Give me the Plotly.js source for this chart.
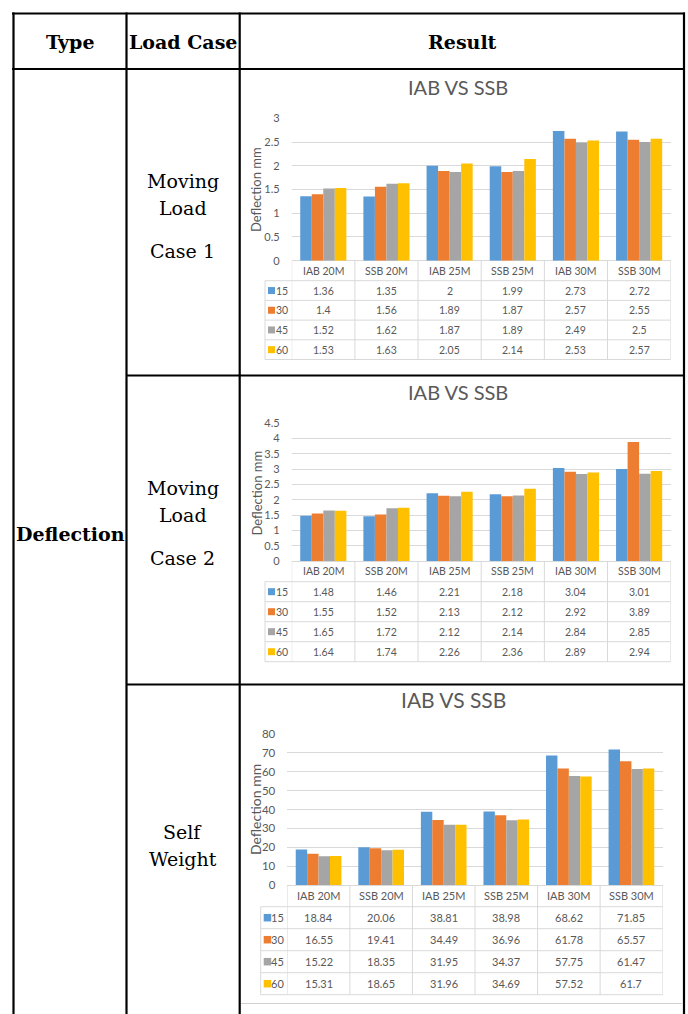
<!DOCTYPE html>
<html>
<head>
<meta charset="utf-8">
<script src="https://cdn.plot.ly/plotly-3.0.1.min.js"></script>
<style>
  html, body { margin: 0; padding: 0; background: #fff; }
  #chart { width: 688px; height: 1014px; }
</style>
</head>
<body>
<div id="chart"></div>
<script>
// ---- data ----
const categories = ['IAB 20M', 'SSB 20M', 'IAB 25M', 'SSB 25M', 'IAB 30M', 'SSB 30M'];
const seriesNames = ['15', '30', '45', '60'];
const seriesColors = ['#5B9BD5', '#ED7D31', '#A5A5A5', '#FFC000'];

// Moving Load Case 1 (deflection, mm)
const case1_15 = [1.36, 1.35, 2, 1.99, 2.73, 2.72];
const case1_30 = [1.4, 1.56, 1.89, 1.87, 2.57, 2.55];
const case1_45 = [1.52, 1.62, 1.87, 1.89, 2.49, 2.5];
const case1_60 = [1.53, 1.63, 2.05, 2.14, 2.53, 2.57];

// Moving Load Case 2 (deflection, mm)
const case2_15 = [1.48, 1.46, 2.21, 2.18, 3.04, 3.01];
const case2_30 = [1.55, 1.52, 2.13, 2.12, 2.92, 3.89];
const case2_45 = [1.65, 1.72, 2.12, 2.14, 2.84, 2.85];
const case2_60 = [1.64, 1.74, 2.26, 2.36, 2.89, 2.94];

// Self Weight (deflection, mm)
const self_15 = [18.84, 20.06, 38.81, 38.98, 68.62, 71.85];
const self_30 = [16.55, 19.41, 34.49, 36.96, 61.78, 65.57];
const self_45 = [15.22, 18.35, 31.95, 34.37, 57.75, 61.47];
const self_60 = [15.31, 18.65, 31.96, 34.69, 57.52, 61.7];

// y-axis ticks
const ticks_case1 = [0, 0.5, 1, 1.5, 2, 2.5, 3];
const ticks_case2 = [0, 0.5, 1, 1.5, 2, 2.5, 3, 3.5, 4, 4.5];
const ticks_self = [0, 10, 20, 30, 40, 50, 60, 70, 80];

const chartTitle = 'IAB VS SSB';
const yTitle = 'Deflection mm';

// ---- page geometry (pixels) ----
const W = 688, H = 1014;
const px = x => x / W;
const py = y => 1 - y / H;

const CHART_FONT = 'Lato, "Open Sans", sans-serif';
const SERIF = '"DejaVu Serif", "Liberation Serif", serif';
const GREY_TEXT = '#595959';
const GRID = '#d9d9d9';

const panels = [
  { suf: '',  series: [case1_15, case1_30, case1_45, case1_60], ticks: ticks_case1,
    left: 291.7, right: 670.7, top: 118.3, bottom: 260.7, titleX: 458, titleY: 87, titleSize: 20,
    yTitleX: 256, yTitleY: 190, yTitleSize: 13, legendLeft: 265, headerH: 20, rowH: 19.7, fontSize: 10.5, key: 7 },
  { suf: '2', series: [case2_15, case2_30, case2_45, case2_60], ticks: ticks_case2,
    left: 291.7, right: 670.7, top: 423.3, bottom: 561, titleX: 458, titleY: 392, titleSize: 20,
    yTitleX: 256.5, yTitleY: 493, yTitleSize: 13, legendLeft: 265, headerH: 20.7, rowH: 20, fontSize: 10.5, key: 7 },
  { suf: '3', series: [self_15, self_30, self_45, self_60], ticks: ticks_self,
    left: 287.3, right: 662.7, top: 734, bottom: 885, titleX: 454, titleY: 699, titleSize: 21,
    yTitleX: 255, yTitleY: 810, yTitleSize: 14, legendLeft: 260.7, headerH: 21.7, rowH: 22, fontSize: 11, key: 7.5 }
];

const traces = [];
const annotations = [];
const shapes = [];
const layout = {
  width: W, height: H,
  margin: { l: 0, r: 0, t: 0, b: 0 },
  paper_bgcolor: '#ffffff',
  plot_bgcolor: 'rgba(0,0,0,0)',
  showlegend: false,
  barmode: 'group',
  bargap: 0.27,
  bargroupgap: 0,
  font: { family: CHART_FONT, color: GREY_TEXT }
};

panels.forEach(p => {
  const xa = 'x' + p.suf, ya = 'y' + p.suf;
  const tickMax = p.ticks[p.ticks.length - 1];

  p.series.forEach((vals, s) => {
    traces.push({
      type: 'bar', name: seriesNames[s], x: categories, y: vals,
      xaxis: xa, yaxis: ya,
      marker: { color: seriesColors[s], line: { width: 0 } },
      hoverinfo: 'x+y+name'
    });
  });

  layout['xaxis' + p.suf] = {
    domain: [px(p.left), px(p.right)], anchor: ya,
    type: 'category', categoryarray: categories, range: [-0.5, categories.length - 0.5],
    showticklabels: false, showgrid: false, zeroline: false, showline: false, ticks: '',
    fixedrange: true
  };
  layout['yaxis' + p.suf] = {
    domain: [py(p.bottom), py(p.top)], anchor: xa,
    range: [0, tickMax], tickvals: p.ticks, ticktext: p.ticks.map(String),
    showgrid: true, gridcolor: GRID, gridwidth: 1,
    zeroline: true, zerolinecolor: GRID, zerolinewidth: 1,
    showline: false, ticks: '', ticklabelstandoff: 11,
    tickfont: { family: CHART_FONT, size: p.fontSize + 0.5, color: GREY_TEXT },
    fixedrange: true
  };

  // chart title
  annotations.push({
    xref: 'paper', yref: 'paper', x: px(p.titleX), y: py(p.titleY),
    text: chartTitle, showarrow: false, xanchor: 'center', yanchor: 'middle',
    font: { family: CHART_FONT, size: p.titleSize, color: GREY_TEXT }
  });
  // y-axis title
  annotations.push({
    xref: 'paper', yref: 'paper', x: px(p.yTitleX), y: py(p.yTitleY),
    text: yTitle, textangle: -90, showarrow: false, xanchor: 'center', yanchor: 'middle',
    font: { family: CHART_FONT, size: p.yTitleSize, color: GREY_TEXT }
  });

  // data table under the plot
  const headerTop = p.bottom;
  const headerBot = headerTop + p.headerH;
  const tableBot = headerBot + p.rowH * seriesNames.length;
  const cellFont = { family: CHART_FONT, size: p.fontSize, color: GREY_TEXT };

  categories.forEach(c => {
    annotations.push({
      xref: xa, yref: 'paper', x: c, y: py(headerTop + p.headerH / 2),
      text: c, showarrow: false, xanchor: 'center', yanchor: 'middle', font: cellFont
    });
  });
  p.series.forEach((vals, s) => {
    const rowMid = headerBot + p.rowH * (s + 0.5);
    const yc = py(rowMid);
    // legend key + series name
    shapes.push({ type: 'rect', xref: 'paper', yref: 'paper',
      x0: px(p.legendLeft + 3), x1: px(p.legendLeft + 3 + p.key),
      y0: py(rowMid - p.key / 2), y1: py(rowMid + p.key / 2),
      fillcolor: seriesColors[s], line: { width: 0 } });
    annotations.push({
      xref: 'paper', yref: 'paper', x: px(p.left - 1.5), y: yc,
      text: seriesNames[s], showarrow: false, xanchor: 'right', yanchor: 'middle', font: cellFont
    });
    vals.forEach((v, c) => {
      annotations.push({
        xref: xa, yref: 'paper', x: categories[c], y: yc,
        text: String(v), showarrow: false, xanchor: 'center', yanchor: 'middle', font: cellFont
      });
    });
  });

  // table grid: row separators
  for (let r = 0; r <= seriesNames.length; r++) {
    const y = py(headerBot + p.rowH * r);
    shapes.push({ type: 'line', xref: 'paper', yref: 'paper',
      x0: px(p.legendLeft), x1: px(p.right), y0: y, y1: y,
      line: { color: GRID, width: 1 } });
  }
  // column separators on category boundaries
  for (let k = 0; k <= categories.length; k++) {
    shapes.push({ type: 'line', xref: xa, yref: 'paper',
      x0: k - 0.5, x1: k - 0.5, y0: py(headerTop), y1: py(tableBot),
      line: { color: GRID, width: 1 } });
  }
  // legend column left edge
  shapes.push({ type: 'line', xref: 'paper', yref: 'paper',
    x0: px(p.legendLeft), x1: px(p.legendLeft), y0: py(headerBot), y1: py(tableBot),
    line: { color: GRID, width: 1 } });
});

// faint frame edge under the last chart
shapes.push({ type: 'line', xref: 'paper', yref: 'paper',
  x0: px(241), x1: px(682), y0: py(1003.5), y1: py(1003.5),
  line: { color: '#d0d0d0', width: 1 } });

// ---- outer table ----
const frame = { color: '#000000', width: 2.2 };
const hLine = (x0, x1, y) => shapes.push({ type: 'line', xref: 'paper', yref: 'paper',
  x0: px(x0), x1: px(x1), y0: py(y), y1: py(y), line: frame, layer: 'above' });
const vLine = (x, y0, y1) => shapes.push({ type: 'line', xref: 'paper', yref: 'paper',
  x0: px(x), x1: px(x), y0: py(y0), y1: py(y1), line: frame, layer: 'above' });

hLine(12, 685, 13.5);      // top
hLine(12, 685, 69);        // under header
hLine(126, 685, 375.5);    // between case 1 and case 2
hLine(126, 685, 684.5);    // between case 2 and self weight
vLine(13.5, 12.5, H);      // left
vLine(126.5, 12.5, H);     // after Type
vLine(239.7, 12.5, H);     // after Load Case
vLine(684, 12.5, H);       // right

const serif = (text, x, y, bold) => annotations.push({
  xref: 'paper', yref: 'paper', x: px(x), y: py(y), text: bold ? '<b>' + text + '</b>' : text,
  showarrow: false, xanchor: 'center', yanchor: 'middle',
  font: { family: SERIF, size: 19, color: '#000000' }
});

serif('Type', 70, 41.5, true);
serif('Load Case', 183, 41.5, true);
serif('Result', 462, 41.5, true);
serif('Deflection', 70, 533.5, true);

serif('Moving', 183, 181.5);
serif('Load', 183, 207.5);
serif('Case 1', 183, 251);

serif('Moving', 183, 488.5);
serif('Load', 183, 515);
serif('Case 2', 183, 558);

serif('Self', 183, 832);
serif('Weight', 183, 859);

layout.annotations = annotations;
layout.shapes = shapes;

Plotly.newPlot('chart', traces, layout, { staticPlot: true, displayModeBar: false });
</script>
</body>
</html>
